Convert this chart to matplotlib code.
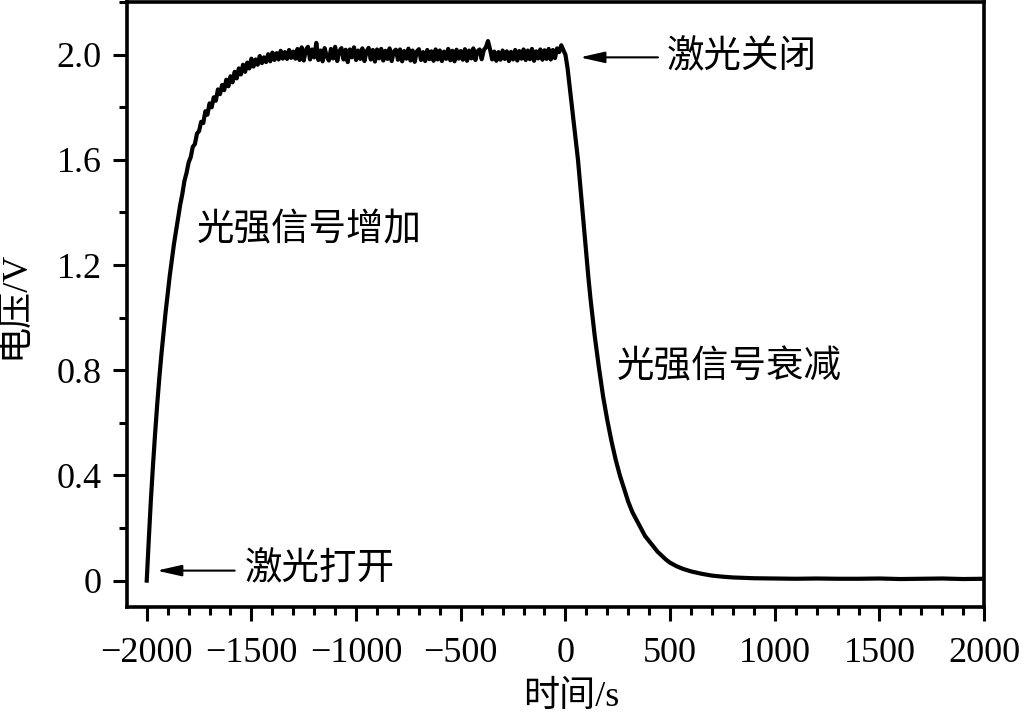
import numpy as np
import matplotlib
matplotlib.use('Agg')
import matplotlib.pyplot as plt
from matplotlib.ticker import MultipleLocator

plt.rcParams['font.family'] = ['Liberation Serif', 'Noto Sans CJK SC']
plt.rcParams['axes.unicode_minus'] = True

# rising part after the laser is switched on (s, V)
rise_t = [-2000, -1990, -1980, -1970, -1960, -1950, -1940, -1930, -1920, -1910,
          -1900, -1890, -1880, -1870, -1860, -1850, -1840, -1830, -1820, -1810,
          -1800, -1790, -1780, -1770, -1760, -1750, -1740, -1730, -1720, -1710,
          -1700, -1690, -1680, -1670, -1660, -1650, -1640, -1630, -1620, -1610,
          -1600, -1590, -1580, -1570, -1560, -1550, -1540, -1530, -1520, -1510,
          -1500, -1490, -1480, -1470, -1460, -1450, -1440, -1430, -1420, -1410,
          -1400, -1390, -1380, -1370, -1360, -1350, -1340, -1330, -1320, -1310]
rise_v = [0.00, 0.16, 0.31, 0.44, 0.56, 0.67, 0.77, 0.86, 0.94, 1.02,
          1.09, 1.16, 1.22, 1.28, 1.33, 1.38, 1.43, 1.47, 1.52, 1.55,
          1.59, 1.61, 1.65, 1.66, 1.70, 1.71, 1.745, 1.74, 1.785, 1.772,
          1.815, 1.80, 1.838, 1.825, 1.868, 1.850, 1.885, 1.865, 1.905, 1.880,
          1.918, 1.895, 1.935, 1.910, 1.948, 1.925, 1.962, 1.935, 1.970, 1.948,
          1.985, 1.955, 1.982, 1.962, 1.995, 1.968, 1.990, 1.972, 2.002, 1.975,
          2.008, 1.980, 2.006, 1.982, 2.015, 1.985, 2.010, 1.984, 2.018, 1.988]

# plateau, sampled every 10 s from -1300 to -10
plateau_v = [2.012, 1.985, 2.022, 1.980, 2.028, 1.978, 2.018, 2.030, 1.982, 2.020, 1.990,
             2.045, 1.980, 2.016, 1.975, 2.025, 1.992, 1.978, 2.022, 1.986, 2.030,
             1.976, 2.014, 2.025, 1.982, 2.019, 1.972, 2.020, 1.990, 2.028, 1.980,
             2.016, 1.984, 2.024, 1.976, 2.013, 2.026, 1.982, 2.018, 1.974, 2.020,
             1.986, 2.022, 1.978, 2.015, 1.984, 2.024, 1.976, 2.012, 2.019, 1.981,
             2.020, 1.975, 2.014, 1.985, 2.023, 1.978, 2.016, 1.973, 2.012, 2.021,
             1.980, 2.010, 1.976, 2.018, 1.983, 2.013, 1.977, 2.020, 1.982, 2.016,
             1.976, 2.012, 1.984, 2.022, 1.979, 2.015, 1.975, 2.019, 1.985, 2.014,
             1.981, 2.021, 1.977, 2.016, 1.986, 2.024, 1.980, 2.013, 2.020, 1.983,
             2.018, 2.028, 2.052, 2.020, 1.982, 2.012, 1.977, 2.010, 1.981, 2.016,
             1.984, 2.013, 1.976, 2.011, 1.982, 2.018, 1.978, 2.014, 1.985, 2.020,
             1.980, 2.016, 1.983, 2.022, 1.977, 2.013, 1.986, 2.020, 1.981, 2.017,
             1.984, 2.022, 1.982, 2.018, 1.987, 2.024, 2.010, 2.036, 2.018]
plateau_t = list(range(-1300, 0, 10))

# decay after the laser is switched off
decay_t = [0, 10, 20, 30, 40, 50, 60, 70, 80, 90, 100, 110, 120, 130, 140, 150, 160,
           180, 200, 220, 240, 260, 280, 300, 320, 340, 360, 380, 400, 420, 440, 460,
           480, 500, 530, 560, 600, 650, 700, 750, 800, 900]
decay_v = [2.00, 1.95, 1.88, 1.81, 1.74, 1.67, 1.60, 1.51, 1.42, 1.33, 1.24, 1.15, 1.07,
           1.00, 0.93, 0.87, 0.81, 0.70, 0.61, 0.53, 0.46, 0.40, 0.35, 0.30, 0.26, 0.23,
           0.20, 0.17, 0.15, 0.13, 0.11, 0.095, 0.080, 0.068, 0.055, 0.045, 0.035,
           0.026, 0.019, 0.015, 0.012, 0.009]

# baseline tail
tail_t = [1000, 1100, 1200, 1300, 1400, 1500, 1600, 1700, 1800, 1900, 2000]
tail_v = [0.008, 0.007, 0.008, 0.007, 0.007, 0.008, 0.006, 0.007, 0.008, 0.006, 0.007]

t = np.array(rise_t + plateau_t + decay_t + tail_t)
v = np.array(rise_v + plateau_v + decay_v + tail_v)

fig = plt.figure(figsize=(10.23, 7.14), dpi=100)
ax = fig.add_axes([0.124, 0.150, 0.838, 0.847])
ax.plot(t, v, color='black', lw=3.0)

ax.set_xlim(-2095, 2000)
ax.set_ylim(-0.1, 2.2)
ax.xaxis.set_major_locator(MultipleLocator(500))
ax.xaxis.set_minor_locator(MultipleLocator(100))
ax.set_yticks([0, 0.4, 0.8, 1.2, 1.6, 2.0])
ax.set_yticklabels(['0', '0.4', '0.8', '1.2', '1.6', '2.0'])
ax.yaxis.set_minor_locator(MultipleLocator(0.2))

ax.tick_params(which='both', direction='out', width=2.2, top=False, right=False,
               labelsize=26)
ax.tick_params(axis='x', which='major', pad=12)
ax.tick_params(axis='y', which='major', pad=8)
ax.tick_params(which='major', length=10)
ax.tick_params(which='minor', length=6)
for s in ax.spines.values():
    s.set_linewidth(2.6)

ax.set_xlabel('时间/s', fontsize=26)
ax.xaxis.set_label_coords(0.518, -0.122)
ax.set_ylabel('电压/V', fontsize=26, labelpad=18)

arrow = dict(arrowstyle='-|>,head_length=0.75,head_width=0.17', color='black',
             lw=1.5, mutation_scale=20, shrinkA=0, shrinkB=0)
ax.annotate('', xy=(-1952, 0.038), xytext=(-1580, 0.038), arrowprops=arrow)
ax.text(-1532, 0.04, '激光打开', fontsize=27, va='center', ha='left')
ax.annotate('', xy=(69, 1.99), xytext=(442, 1.99), arrowprops=arrow)
ax.text(485, 1.99, '激光关闭', fontsize=27, va='center', ha='left')
ax.text(-1761, 1.33, '光强信号增加', fontsize=27, va='center', ha='left')
ax.text(246, 0.81, '光强信号衰减', fontsize=27, va='center', ha='left')

fig.savefig('out.png', dpi=100)
